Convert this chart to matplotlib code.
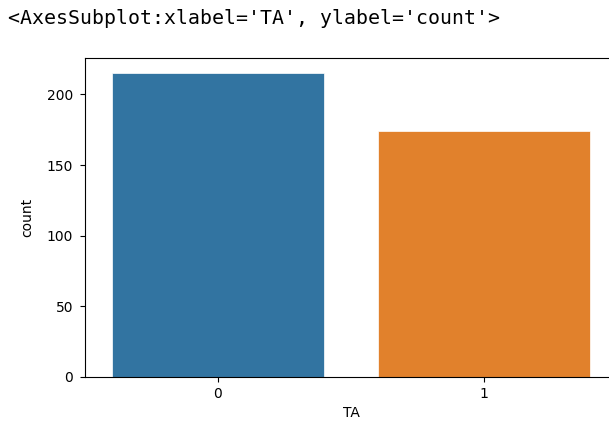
"""
Countplot of TA, as shown in a notebook cell output
"""

import matplotlib
matplotlib.use('Agg')
import matplotlib.pyplot as plt

categories = ['0', '1']
counts = [215, 174]
colors = ['#3274a1', '#e1812c']

W, H = 609, 424
fig = plt.figure(figsize=(W / 100, H / 100), dpi=100)

# repr line printed above the figure
fig.text(8 / W, 1 - 18 / H, "<AxesSubplot:xlabel='TA', ylabel='count'>",
         family='DejaVu Sans Mono', fontsize=14.3, va='center', ha='left')

# axes runs past the right edge of the crop
left, right, top, bottom = 85, 617, 58, 377
ax = fig.add_axes([left / W, 1 - bottom / H, (right - left) / W, (bottom - top) / H])

x = range(len(categories))
ax.bar(x, counts, width=0.8, color=colors, edgecolor='white', linewidth=0.5)
ax.set_xticks(list(x))
ax.set_xticklabels(categories)
ax.set_xlim(-0.5, 1.5)
ax.set_ylim(0, max(counts) * 1.05)
ax.tick_params(axis='y', pad=5)
ax.set_xlabel('TA')
ax.set_ylabel('count', labelpad=9)

plt.savefig('out.png', dpi=100)
plt.close(fig)
